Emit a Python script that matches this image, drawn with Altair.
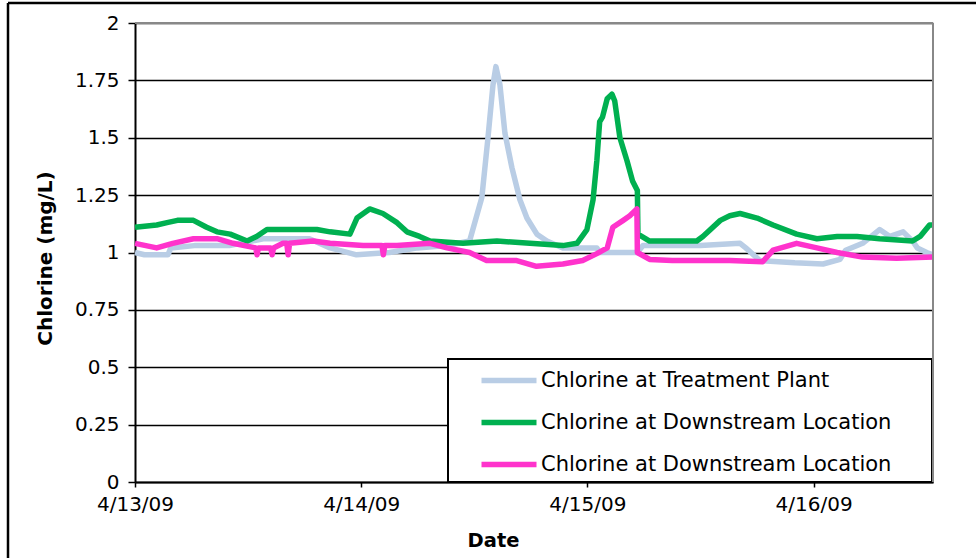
import altair as alt
import pandas as pd

# Series identifiers, legend labels and colours
SERIES_KEYS = ["plant", "downstream_a", "downstream_b"]
SERIES_LABELS = [
    "Chlorine at Treatment Plant",
    "Chlorine at Downstream Location",
    "Chlorine at Downstream Location",
]
SERIES_COLORS = ["#B9CDE5", "#00B050", "#FF33CC"]

# Hours elapsed since 4/13/09 00:00 and chlorine readings (mg/L)
plant_hours = [0, 1.0, 3.5, 3.8, 6.3, 10.0, 13.6, 18.5, 20.7, 23.5,
               27.0, 30.0, 33.0, 35.5, 36.8, 37.45, 37.98, 38.29, 38.72, 39.25,
               39.99, 40.84, 41.58, 42.64, 43.7, 45.4, 49.0, 49.3, 53.3, 53.9,
               60.0, 64.2, 64.8, 66.3, 70.0, 73.0, 74.8, 75.4, 77.2, 79.0,
               80.1, 81.5, 82.5, 83.0, 84.0, 84.65]
plant_values = [1.0, 0.99, 0.99, 1.02, 1.03, 1.03, 1.06, 1.06, 1.02, 0.99,
                1.0, 1.02, 1.03, 1.05, 1.24, 1.50, 1.73, 1.81, 1.73, 1.52,
                1.37, 1.23, 1.15, 1.08, 1.05, 1.02, 1.02, 1.0, 1.0, 1.03,
                1.03, 1.04, 1.02, 0.965, 0.955, 0.95, 0.97, 1.01, 1.04, 1.10,
                1.07, 1.09, 1.05, 1.02, 1.0, 0.99]

down_a_hours = [0, 2.3, 3.4, 4.5, 6.2, 7.6, 8.7, 10.1, 11.9, 12.9,
                14.0, 16.8, 19.3, 20.7, 22.8, 23.55, 24.9, 26.3, 27.8, 28.85,
                30.2, 31.3, 34.8, 38.4, 41.9, 45.4, 46.9, 47.95, 48.6, 49.0,
                49.3, 49.6, 50.1, 50.6, 50.9, 51.45, 52.2, 52.8, 53.3, 53.36,
                54.6, 59.6, 60.25, 62.1, 63.1, 64.2, 66.0, 67.7, 70.2, 72.35,
                74.5, 76.6, 79.0, 82.5, 83.3, 84.3, 84.65]
down_a_values = [1.11, 1.12, 1.13, 1.14, 1.14, 1.11, 1.09, 1.08, 1.05, 1.07,
                 1.10, 1.10, 1.10, 1.09, 1.08, 1.15, 1.19, 1.17, 1.13, 1.09,
                 1.07, 1.05, 1.04, 1.05, 1.04, 1.03, 1.04, 1.10, 1.23, 1.40,
                 1.57, 1.59, 1.67, 1.69, 1.66, 1.50, 1.40, 1.31, 1.27, 1.08,
                 1.05, 1.05, 1.07, 1.14, 1.16, 1.17, 1.15, 1.12, 1.08, 1.06,
                 1.07, 1.07, 1.06, 1.05, 1.07, 1.12, 1.12]

down_b_hours = [0, 2.3, 4.0, 6.2, 8.7, 10.4, 12.8, 12.95, 13.1, 14.4,
                14.55, 14.7, 15.7, 16.1, 16.25, 16.4, 18.9, 20.7, 24.2, 26.2,
                26.35, 26.5, 27.8, 31.3, 33.1, 35.5, 37.3, 40.5, 42.6, 45.4,
                47.5, 49.0, 50.1, 50.7, 51.8, 52.5, 53.25, 53.3, 54.6, 57.0,
                63.1, 66.6, 67.7, 70.2, 72.35, 74.5, 77.2, 80.8, 84.65]
down_b_values = [1.04, 1.02, 1.04, 1.06, 1.06, 1.04, 1.02, 0.99, 1.02, 1.02,
                 0.99, 1.02, 1.04, 1.04, 0.99, 1.04, 1.05, 1.04, 1.03, 1.03,
                 0.99, 1.03, 1.03, 1.04, 1.02, 1.0, 0.965, 0.965, 0.94, 0.95,
                 0.965, 0.995, 1.02, 1.11, 1.14, 1.16, 1.19, 1.0, 0.97, 0.965,
                 0.965, 0.96, 1.01, 1.04, 1.02, 1.0, 0.98, 0.975, 0.98]

Y_TICKS = [0, 0.25, 0.5, 0.75, 1, 1.25, 1.5, 1.75, 2]

start = pd.Timestamp("2009-04-13 00:00")
rows = []
for key, hrs, vals in zip(SERIES_KEYS,
                          [plant_hours, down_a_hours, down_b_hours],
                          [plant_values, down_a_values, down_b_values]):
    for h, v in zip(hrs, vals):
        rows.append({"series": key,
                     "date": start + pd.Timedelta(hours=h),
                     "chlorine": v})
df = pd.DataFrame(rows)

W, H = 798, 459
FONT = "DejaVu Sans"

label_expr = " : ".join(
    f"datum.label == '{k}' ? '{lab}'" for k, lab in zip(SERIES_KEYS[:-1], SERIES_LABELS[:-1])
) + f" : '{SERIES_LABELS[-1]}'"

day_ticks = [alt.DateTime(year=2009, month=4, date=d) for d in (13, 14, 15, 16)]

# white framed box that holds the legend entries
legend_box = alt.Chart().mark_rect(fill="white", stroke="black", strokeWidth=2).encode(
    x=alt.value(313), x2=alt.value(797), y=alt.value(336), y2=alt.value(459)
)

lines = alt.Chart(df).mark_line(strokeWidth=5.5, strokeJoin="round").encode(
    x=alt.X(
        "date:T",
        scale=alt.Scale(domain=[alt.DateTime(year=2009, month=4, date=13),
                                alt.DateTime(year=2009, month=4, date=16, hours=12, minutes=40)]),
        axis=alt.Axis(
            title="Date", values=day_ticks, format="%-m/%-d/%y", grid=False,
            labelFlush=False,
            tickSize=5, tickColor="black", tickWidth=1.5,
            domainColor="black", domainWidth=2,
            labelFontSize=20, labelPadding=7, labelColor="black",
            titleFontSize=19.5, titleFontWeight="bold", titleColor="black",
            titleX=358, titleY=58, titleBaseline="middle", titleAlign="center",
        ),
    ),
    y=alt.Y(
        "chlorine:Q",
        scale=alt.Scale(domain=[0, 2], nice=False),
        axis=alt.Axis(
            title="Chlorine (mg/L)", values=Y_TICKS, format=".2~f",
            labelFlush=False,
            grid=True, gridColor="black", gridWidth=1.5,
            tickSize=7, tickColor="black", tickWidth=1.5,
            domainColor="black", domainWidth=2,
            labelFontSize=20, labelPadding=9, labelColor="black",
            titleFontSize=20, titleFontWeight="bold", titleColor="black",
            titleX=-90, titleY=235, titleBaseline="middle", titleAlign="center",
        ),
    ),
    color=alt.Color(
        "series:N",
        scale=alt.Scale(domain=SERIES_KEYS, range=SERIES_COLORS),
        legend=alt.Legend(
            title=None, orient="none", legendX=313, legendY=337,
            labelExpr=label_expr, labelLimit=600,
            labelFontSize=21, labelColor="black", labelOffset=62,
            symbolType="M2.6,0H13.6", symbolSize=100, symbolStrokeWidth=5.5,
            rowPadding=19, padding=10,
        ),
    ),
)

# plot-area border on the right and top
right_border = alt.Chart().mark_rule(color="#888888", strokeWidth=2).encode(
    x=alt.value(W), y=alt.value(0), y2=alt.value(H)
)
top_border = alt.Chart().mark_rule(color="#888888", strokeWidth=2).encode(
    x=alt.value(0), x2=alt.value(W), y=alt.value(0)
)

# outer frame around the figure
frame_left = alt.Chart().mark_rule(color="black", strokeWidth=2.5).encode(
    x=alt.value(-127), y=alt.value(-20), y2=alt.value(700)
)
frame_top = alt.Chart().mark_rule(color="black", strokeWidth=2.5).encode(
    x=alt.value(-127), x2=alt.value(1000), y=alt.value(-20)
)

chart = alt.layer(lines, legend_box, right_border, top_border, frame_left, frame_top).properties(
    width=W, height=H,
    padding={"left": 135, "top": 23, "right": 43, "bottom": 76},
    autosize=alt.AutoSizeParams(type="none"),
    background="white",
).configure(font=FONT).configure_view(stroke=None)

chart.save("out.html", embed_options={"renderer": "svg", "actions": False})
